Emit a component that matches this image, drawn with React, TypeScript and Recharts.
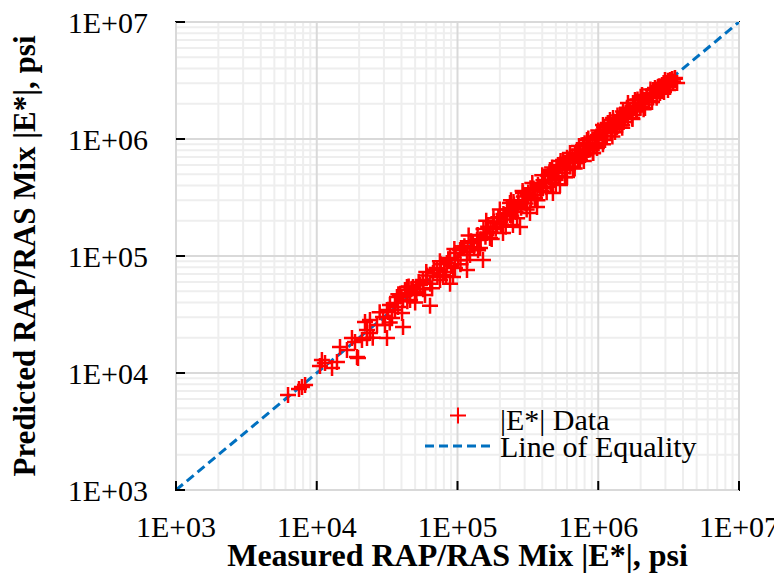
import {
  ScatterChart,
  Scatter,
  XAxis,
  YAxis,
  ReferenceLine,
  ReferenceArea,
  Label,
} from "recharts";

const FONT = '"Liberation Serif", "Times New Roman", serif';

// axis ticks (psi)
const decadeTicks = [1e3, 1e4, 1e5, 1e6, 1e7];
const minorSteps = [2, 3, 4, 5, 6, 7, 8, 9];

const measured = [
  // low end
  6250, 7850, 8260, 7480, 10540, 11450, 12840, 13920, 10880, 14630, 16400,
  19630, 18700, 20950, 22750, 23880, 22020, 23880, 26790, 30540, 29560, 32100,
  33130, 35970, 37780, 41020, 40360, 43750, 22750, 17790, 19320, 31550, 41020,
  43750, 56870, 63800, 88500, 116800, 151700, 38000, 33000, 28000, 25000,
  // middle
  31550, 37150, 42360, 48310, 56870, 66990, 75150, 84140, 92900, 104300,
  116800, 137700, 162200, 191000, 210500, 224700, 264800, 278100, 311900,
  343700, 367100, 34260, 35970, 39000, 46030, 49890, 54200, 58750, 71450,
  78880, 88500, 95940, 109400, 122700, 128800, 144500, 170200, 178700, 200400,
  236000, 247700, 40000, 44000, 47000, 51000, 53000, 57000, 61000, 64000,
  68000, 72000, 76000, 81000, 86000, 90000, 97000, 101000, 106000, 45000,
  50000, 60000, 66000, 75000, 83000, 95000, 105000,
  // upper end
  236000, 291700, 327300, 385500, 453900, 476400, 562300, 599800, 706300,
  831800, 917800, 1028000, 1211000, 1358000, 1600000, 1766000, 1982000,
  2219000, 2449000, 2748000, 3083000, 3396000, 3631000, 418800, 439500,
  493100, 517600, 534600, 629500, 662200, 683900, 741300, 779800, 805400,
  873000, 948400, 979500, 1081000, 1117000, 1153000, 1274000, 1315000,
  1426000, 1475000, 1549000, 1683000, 1738000, 1824000, 1884000, 2080000,
  2148000, 2333000, 2411000, 2530000, 2612000, 2838000, 2931000, 2979000,
  3130000, 3236000, 3508000, 3236000, 2655000, 2046000, 1626000, 1253000,
  995400, 845300, 717800, 580700, 468800, 404600, 355600, 316900, 269200,
  217300, 112000, 118000, 125000, 131000, 139000, 146000, 153000, 158000,
  165000, 172000, 181000, 187000, 195000, 203000, 212000, 219000, 228000,
  241000, 252000, 259000, 271000, 283000, 296000, 305000, 318000, 332000,
  347000, 358000, 373000, 392000, 408000, 425000, 441000, 458000, 472000,
  489000, 505000, 521000, 538000, 556000, 575000, 594000, 612000, 633000,
  655000, 678000, 699000, 722000, 748000, 771000, 796000, 824000, 851000,
  880000, 909000, 941000, 972000, 1005000, 1040000, 1076000, 1112000,
  1150000, 1190000, 1232000, 1275000, 1320000, 1366000, 1414000, 1463000,
  1514000, 1567000, 1622000, 1679000, 1738000, 1799000, 1862000, 1927000,
  1995000, 2065000, 2137000, 2212000, 2290000, 2370000, 2453000, 2539000,
  2628000, 2720000, 2815000, 2914000, 3016000, 3122000, 3231000, 3344000,
  3400000, 3500000, 2000000, 1500000, 1100000, 800000, 600000, 450000, 330000,
  250000, 180000, 120000, 140000, 160000, 175000, 200000, 220000, 240000,
  265000, 290000, 310000, 340000, 370000, 400000, 430000, 470000, 500000,
  540000, 580000, 630000, 680000, 730000, 790000, 850000, 920000, 1000000,
  1080000, 1170000, 1260000, 1370000, 1480000, 1600000, 1750000, 1900000,
  2100000, 2350000, 2600000,
];

// predicted |E*| (psi), same order as measured
const predicted = [
  // low end
  6490, 7590, 7890, 7290, 11480, 12160, 11040, 12410, 12910, 16680, 15730,
  13430, 18410, 19150, 19910, 21970, 27300, 28400, 25700, 25700, 30130, 33200,
  38100, 39630, 36640, 42050, 32590, 46450, 23330, 19910, 13700, 19910, 24720,
  54330, 58750, 37500, 58000, 75900, 92460, 47000, 27000, 33000, 20000,
  // middle
  34510, 44670, 51170, 54330, 62370, 71610, 62370, 87100, 66000, 112500,
  92460, 137000, 157400, 191500, 157400, 233300, 262600, 177000, 301300,
  366400, 262600, 29510, 34510, 46450, 42050, 49200, 56490, 46450, 78880,
  68870, 96160, 78880, 116900, 102100, 129100, 116900, 142600, 173400, 195400,
  223900, 184100, 45000, 41000, 52000, 47000, 60000, 52000, 68000, 58000,
  76000, 66000, 85000, 73000, 94000, 82000, 106000, 92000, 117000, 55000,
  40000, 73000, 53000, 90000, 67000, 115000, 85000,
  // upper end
  283800, 345100, 233300, 389000, 543300, 345100, 662200, 473200, 805400,
  979500, 758600, 1125000, 1452000, 1267000, 1771000, 2032000, 1879000,
  2286000, 2624000, 2472000, 3013000, 3069000, 3013000, 446700, 492000,
  464500, 599800, 404600, 662200, 565000, 729400, 662200, 889200, 729400,
  889200, 1021000, 837500, 1318000, 979500, 1194000, 1510000, 1148000,
  1603000, 1318000, 1510000, 1702000, 1510000, 2153000, 1771000, 2153000,
  1841000, 2377000, 2070000, 2729000, 2333000, 2897000, 2523000, 3192000,
  2624000, 3192000, 3319000, 2780000, 2780000, 2377000, 2032000, 1318000,
  1081000, 805400, 688600, 543300, 420700, 381100, 313300, 331900, 272900,
  223900, 121000, 108000, 134000, 119000, 151000, 139000, 170000, 146000,
  178000, 160000, 197000, 171000, 214000, 186000, 228000, 205000, 250000,
  221000, 276000, 238000, 294000, 258000, 322000, 281000, 349000, 306000,
  378000, 330000, 405000, 362000, 443000, 391000, 482000, 420000, 512000,
  447000, 551000, 481000, 588000, 512000, 626000, 548000, 668000, 583000,
  712000, 623000, 758000, 665000, 810000, 712000, 866000, 759000, 921000,
  812000, 985000, 866000, 1052000, 925000, 1121000, 992000, 1196000,
  1061000, 1278000, 1137000, 1367000, 1218000, 1461000, 1305000, 1562000,
  1398000, 1668000, 1498000, 1782000, 1605000, 1904000, 1720000, 2034000,
  1843000, 2172000, 1974000, 2318000, 2115000, 2476000, 2266000, 2643000,
  2428000, 2822000, 2601000, 3010000, 2787000, 3150000, 2990000, 3250000,
  3100000, 3280000, 2300000, 1720000, 1260000, 920000, 690000, 520000, 380000,
  290000, 210000, 150000, 112000, 200000, 140000, 250000, 178000, 300000,
  210000, 360000, 250000, 420000, 300000, 490000, 350000, 570000, 410000,
  650000, 470000, 760000, 560000, 870000, 650000, 1010000, 760000, 1180000,
  900000, 1370000, 1050000, 1590000, 1250000, 1850000, 1480000, 2180000,
  1800000, 2650000, 2250000,
];

// line of equality end points
const equalityValues = [1e3, 1e7];

const points = measured.map((m, i) => ({ x: m, y: predicted[i] }));
const equality = equalityValues.map((v) => ({ x: v, y: v }));
const minorGrid = decadeTicks
  .slice(0, -1)
  .flatMap((d) => minorSteps.map((s) => d * s));

const textStyle = { fontFamily: FONT };

function fmt(v: number): string {
  const e = Math.round(Math.log10(v));
  return `1E+${String(e).padStart(2, "0")}`;
}

function XTick(props: any) {
  const { x, y, payload } = props;
  return (
    <g>
      <line x1={x} x2={x} y1={y} y2={y - 9} stroke="#000" strokeWidth={2} />
      <text
        x={x}
        y={y + 47}
        textAnchor="middle"
        style={textStyle}
        fontSize={30}
        fill="#000"
      >
        {fmt(payload.value)}
      </text>
    </g>
  );
}

function YTick(props: any) {
  const { x, y, payload } = props;
  return (
    <g>
      <line x1={x} x2={x + 9} y1={y} y2={y} stroke="#000" strokeWidth={2} />
      <text
        x={x - 28}
        y={y}
        dy="0.35em"
        textAnchor="end"
        style={textStyle}
        fontSize={30}
        fill="#000"
      >
        {fmt(payload.value)}
      </text>
    </g>
  );
}

function Plus(props: any) {
  const { cx, cy } = props;
  if (cx == null || cy == null) return <g />;
  return (
    <path
      d={`M${cx - 8},${cy}h16M${cx},${cy - 8}v16`}
      stroke="#FF0000"
      strokeWidth={2.5}
      fill="none"
    />
  );
}

export default function App() {
  return (
    <div style={{ position: "relative", width: 774, height: 568 }}>
      <ScatterChart
        width={774}
        height={568}
        margin={{ top: 14, right: 43, bottom: 0, left: 0 }}
      >
        {minorGrid.map((v) => (
          <ReferenceLine key={`mx${v}`} x={v} stroke="#eeeeee" strokeWidth={2} />
        ))}
        {minorGrid.map((v) => (
          <ReferenceLine key={`my${v}`} y={v} stroke="#eeeeee" strokeWidth={2} />
        ))}
        {decadeTicks.map((v) => (
          <ReferenceLine key={`Mx${v}`} x={v} stroke="#d9d9d9" strokeWidth={2} />
        ))}
        {decadeTicks.map((v) => (
          <ReferenceLine key={`My${v}`} y={v} stroke="#d9d9d9" strokeWidth={2} />
        ))}
        <XAxis
          type="number"
          dataKey="x"
          scale="log"
          domain={[1e3, 1e7]}
          ticks={decadeTicks}
          interval={0}
          allowDataOverflow
          axisLine={false}
          tickLine={false}
          tickSize={0}
          tickMargin={0}
          height={86}
          tick={XTick}
        >
          <Label
            content={(p: any) => {
              const vb = p.viewBox;
              return (
                <text
                  x={vb.x + vb.width / 2}
                  y={vb.y + 76}
                  textAnchor="middle"
                  style={textStyle}
                  fontWeight="bold"
                  fontSize={32}
                  fill="#000"
                >
                  Measured RAP/RAS Mix |E*|, psi
                </text>
              );
            }}
          />
        </XAxis>
        <YAxis
          type="number"
          dataKey="y"
          scale="log"
          domain={[1e3, 1e7]}
          ticks={decadeTicks}
          interval={0}
          allowDataOverflow
          axisLine={false}
          tickLine={false}
          tickSize={0}
          tickMargin={0}
          width={168}
          tick={YTick}
        >
          <Label
            content={(p: any) => {
              const vb = p.viewBox;
              const cx = 16;
              const cy = vb.y + vb.height / 2;
              return (
                <text
                  x={cx}
                  y={cy}
                  transform={`rotate(-90, ${cx}, ${cy})`}
                  textAnchor="middle"
                  dominantBaseline="central"
                  style={textStyle}
                  fontWeight="bold"
                  fontSize={31}
                  fill="#000"
                >
                  Predicted RAP/RAS Mix |E*|, psi
                </text>
              );
            }}
          />
        </YAxis>
        <ReferenceArea
          x1={1e3}
          x2={1e7}
          y1={1e3}
          y2={1e7}
          fill="none"
          fillOpacity={0}
          stroke="#000"
          strokeWidth={2}
        />
        <Scatter
          data={equality}
          stroke="#0070C0"
          line={{ stroke: "#0070C0", strokeWidth: 3, strokeDasharray: "9 5" }}
          shape={() => <g />}
          isAnimationActive={false}
        />
        <Scatter data={points} shape={Plus} isAnimationActive={false} />
      </ScatterChart>
      <svg
        width={774}
        height={568}
        style={{ position: "absolute", left: 0, top: 0, pointerEvents: "none" }}
      >
        <path
          d="M442,407.5h16M450,399.5v16"
          stroke="#FF0000"
          strokeWidth={2}
          fill="none"
        />
        <text x={492} y={422} style={textStyle} fontSize={30} fill="#000">
          |E*| Data
        </text>
        <line
          x1={417}
          x2={486}
          y1={438}
          y2={438}
          stroke="#0070C0"
          strokeWidth={3}
          strokeDasharray="9 5"
        />
        <text x={492} y={449} style={textStyle} fontSize={30} fill="#000">
          Line of Equality
        </text>
      </svg>
    </div>
  );
}
